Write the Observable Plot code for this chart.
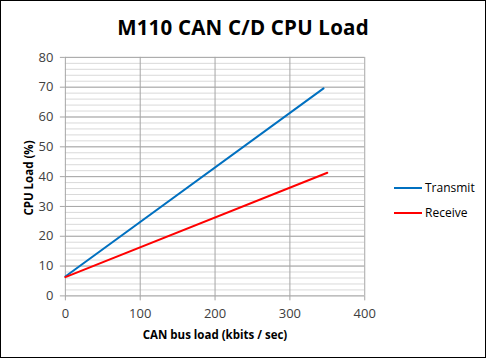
<!DOCTYPE html>
<html>
<head>
<meta charset="utf-8">
<script src="https://cdn.jsdelivr.net/npm/d3@7"></script>
<script src="https://cdn.jsdelivr.net/npm/@observablehq/plot@0.6"></script>
<style>
  body { margin: 0; background: #fff; }
  #wrap { position: relative; width: 486px; height: 358px; box-sizing: border-box; border: 1px solid #000; background: #fff; overflow: hidden; font-family: "Open Sans", "Noto Sans", sans-serif; }
  #chart { position: absolute; left: -1px; top: -1px; }
  #title { position: absolute; left: 0; width: 484px; top: 12px; text-align: center; font-size: 20.5px; font-weight: bold; color: #000; letter-spacing: 0.2px; }
  #ylabel { position: absolute; left: 27px; top: 177px; transform: translate(-50%, -50%) rotate(-90deg); white-space: nowrap; font-size: 11.5px; font-weight: bold; color: #000; }
  #xlabel { position: absolute; left: 214px; top: 333px; transform: translate(-50%, -50%); white-space: nowrap; font-size: 11.5px; font-weight: bold; color: #000; }
  #legend { position: absolute; left: 393px; top: 174px; font-size: 12px; color: #000; }
  .li { display: flex; align-items: center; height: 25px; }
  .sw { width: 28px; height: 2px; margin-right: 3px; }
</style>
</head>
<body>
<div id="wrap">
  <div id="chart"></div>
  <div id="title">M110 CAN C/D CPU Load</div>
  <div id="ylabel">CPU Load (%)</div>
  <div id="xlabel">CAN bus load (kbits / sec)</div>
  <div id="legend"></div>
</div>
<script>
const seriesNames = ["Transmit", "Receive"];
const seriesColors = ["#0070C0", "#FF0000"];
const transmitX = [0, 345];
const transmitY = [6.5, 69.6];
const receiveX = [0, 350];
const receiveY = [6.3, 41.3];
const xTicks = [0, 100, 200, 300, 400];
const yTicks = [0, 10, 20, 30, 40, 50, 60, 70, 80];
const yMinor = d3.range(0, 81, 2);

const data = [
  ...transmitX.map((x, i) => ({series: seriesNames[0], x, y: transmitY[i]})),
  ...receiveX.map((x, i) => ({series: seriesNames[1], x, y: receiveY[i]}))
];

const plot = Plot.plot({
  width: 486,
  height: 358,
  marginLeft: 65,
  marginRight: 121,
  marginTop: 57,
  marginBottom: 62,
  style: {fontFamily: '"Open Sans", "Noto Sans", sans-serif', background: "transparent"},
  x: {domain: [0, 400]},
  y: {domain: [0, 80]},
  color: {domain: seriesNames, range: seriesColors},
  marks: [
    Plot.ruleY(yMinor, {stroke: "#d9d9d9", strokeWidth: 1}),
    Plot.ruleY(yTicks, {stroke: "#a6a6a6", strokeWidth: 1}),
    Plot.ruleX(xTicks, {stroke: "#a6a6a6", strokeWidth: 1}),
    Plot.axisY(yTicks, {tickSize: 5, tickPadding: 7, fontSize: 13, color: "#404040", stroke: "#a6a6a6", label: null}),
    Plot.axisX(xTicks, {tickSize: 5, tickPadding: 8, fontSize: 13, color: "#404040", stroke: "#a6a6a6", label: null}),
    Plot.line(data, {x: "x", y: "y", z: "series", stroke: "series", strokeWidth: 2})
  ]
});
document.getElementById("chart").appendChild(plot);

const legend = document.getElementById("legend");
seriesNames.forEach((n, i) => {
  const row = document.createElement("div");
  row.className = "li";
  row.innerHTML = `<div class="sw" style="background:${seriesColors[i]}"></div><span>${n}</span>`;
  legend.appendChild(row);
});
</script>
</body>
</html>
